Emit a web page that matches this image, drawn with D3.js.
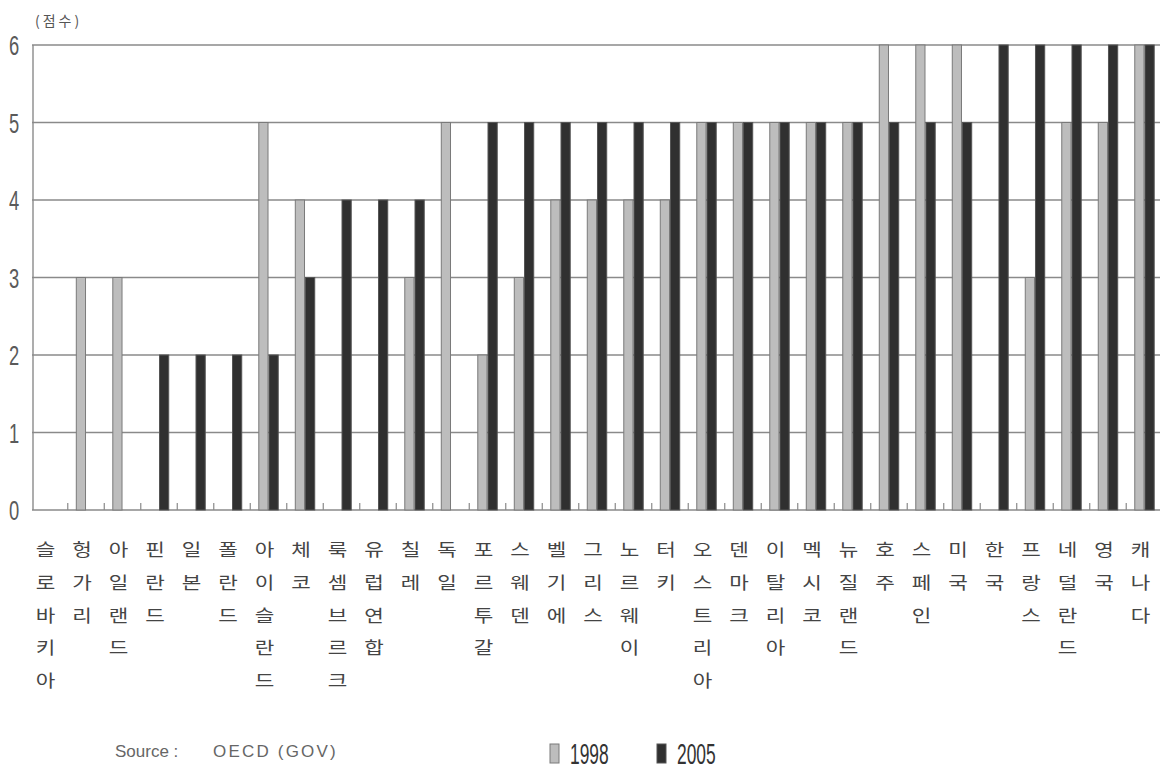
<!DOCTYPE html>
<html>
<head>
<meta charset="utf-8">
<script src="https://cdn.jsdelivr.net/npm/d3@7"></script>
<style>
  html, body { margin: 0; padding: 0; background: #fff; }
  svg { display: block; }
</style>
</head>
<body>
<svg id="chart" width="1160" height="771"></svg>
<script>
// Countries, ordered as on the axis
const countries = ["슬로바키아","헝가리","아일랜드","핀란드","일본","폴란드","아이슬란드","체코","룩셈브르크","유럽연합","칠레","독일","포르투갈","스웨덴","벨기에","그리스","노르웨이","터키","오스트리아","덴마크","이탈리아","멕시코","뉴질랜드","호주","스페인","미국","한국","프랑스","네덜란드","영국","캐나다"];
// Scores per year
const values1998 = [0,3,3,0,0,0,5,4,0,0,3,5,2,3,4,4,4,4,5,5,5,5,5,6,6,6,0,3,5,5,6];
const values2005 = [0,0,0,2,2,2,2,3,4,4,4,0,5,5,5,5,5,5,5,5,5,5,5,5,5,5,6,6,6,6,6];
const seriesNames = ["1998","2005"];
const yTicks = [0,1,2,3,4,5,6];

const svg = d3.select("#chart");
const W = 1160, H = 771;
const plot = { left: 32, right: 1162, top: 45, bottom: 510 };

const colors = { "1998": "#bdbdbd", "2005": "#303030" };
const strokes = { "1998": "#7a7a7a", "2005": "#555" };

const x0 = d3.scaleBand().domain(countries).range([plot.left, plot.right])
  .paddingInner(0.44).paddingOuter(0.2);
const x1 = d3.scaleBand().domain(seriesNames).range([0, x0.bandwidth()]);
const y = d3.scaleLinear().domain([0, 6]).range([plot.bottom, plot.top]);

// Horizontal grid lines
svg.append("g").selectAll("line").data(yTicks).join("line")
  .attr("x1", plot.left).attr("x2", W)
  .attr("y1", d => y(d)).attr("y2", d => y(d))
  .attr("stroke", "#8a8a8a").attr("stroke-width", 1.4);

// Left axis line
svg.append("line")
  .attr("x1", plot.left + 1).attr("x2", plot.left + 1)
  .attr("y1", plot.top).attr("y2", plot.bottom)
  .attr("stroke", "#8a8a8a").attr("stroke-width", 1.4);

// Category boundary ticks along the base
const step = x0.step();
svg.append("g").selectAll("line").data(countries.slice(1)).join("line")
  .attr("x1", d => x0(d) - x0.paddingInner() * step / 2)
  .attr("x2", d => x0(d) - x0.paddingInner() * step / 2)
  .attr("y1", plot.bottom - 7).attr("y2", plot.bottom)
  .attr("stroke", "#8a8a8a").attr("stroke-width", 1.2);

// Bars
const rows = countries.map((c, i) => ({ country: c, "1998": values1998[i], "2005": values2005[i] }));
const groups = svg.append("g").selectAll("g").data(rows).join("g")
  .attr("transform", d => `translate(${x0(d.country)},0)`);
groups.selectAll("rect")
  .data(d => seriesNames.map(s => ({ s, v: d[s] })).filter(e => e.v > 0))
  .join("rect")
  .attr("x", d => x1(d.s) + 0.5)
  .attr("width", x1.bandwidth() - 1)
  .attr("y", d => y(d.v))
  .attr("height", d => y(0) - y(d.v))
  .attr("fill", d => colors[d.s])
  .attr("stroke", d => strokes[d.s])
  .attr("stroke-width", 1);

// Y tick labels
svg.append("g").selectAll("text").data(yTicks).join("text")
  .attr("transform", d => `translate(14,${y(d) + 10}) scale(0.68,1)`)
  .attr("text-anchor", "middle")
  .attr("font-family", "Liberation Sans, Arial, sans-serif")
  .attr("font-size", 27)
  .attr("fill", "#5a5a5a")
  .text(d => d);

// Unit label
svg.append("text")
  .attr("x", 35).attr("y", 26)
  .attr("font-family", "Noto Sans CJK KR, sans-serif")
  .attr("font-size", 14)
  .attr("letter-spacing", 3)
  .attr("fill", "#555")
  .text("(점수)");

// Vertical category labels, one syllable per line
const labelG = svg.append("g")
  .attr("font-family", "Noto Sans CJK KR, sans-serif")
  .attr("font-size", 17)
  .attr("fill", "#444");
countries.forEach(c => {
  const cx = x0(c) + x0.bandwidth() / 2 - 4;
  Array.from(c).forEach((ch, k) => {
    labelG.append("text")
      .attr("transform", `translate(${cx},${556 + k * 32.8}) scale(1.25,1)`)
      .attr("text-anchor", "middle")
      .text(ch);
  });
});

// Source note
const note = svg.append("g")
  .attr("font-family", "Liberation Sans, Arial, sans-serif")
  .attr("font-size", 17)
  .attr("fill", "#666");
note.append("text").attr("x", 115).attr("y", 757).text("Source :");
note.append("text").attr("x", 213).attr("y", 757)
  .attr("letter-spacing", 2.2).text("OECD (GOV)");

// Legend
const legend = svg.append("g");
const legendPos = [550, 657];
seriesNames.forEach((s, i) => {
  legend.append("rect")
    .attr("x", legendPos[i]).attr("y", 744)
    .attr("width", 9).attr("height", 19)
    .attr("fill", colors[s]).attr("stroke", strokes[s]).attr("stroke-width", 1);
  legend.append("text")
    .attr("transform", `translate(${legendPos[i] + 20},764) scale(0.6,1)`)
    .attr("font-family", "Liberation Sans, Arial, sans-serif")
    .attr("font-size", 29)
    .attr("fill", "#333")
    .text(s);
});
</script>
</body>
</html>
